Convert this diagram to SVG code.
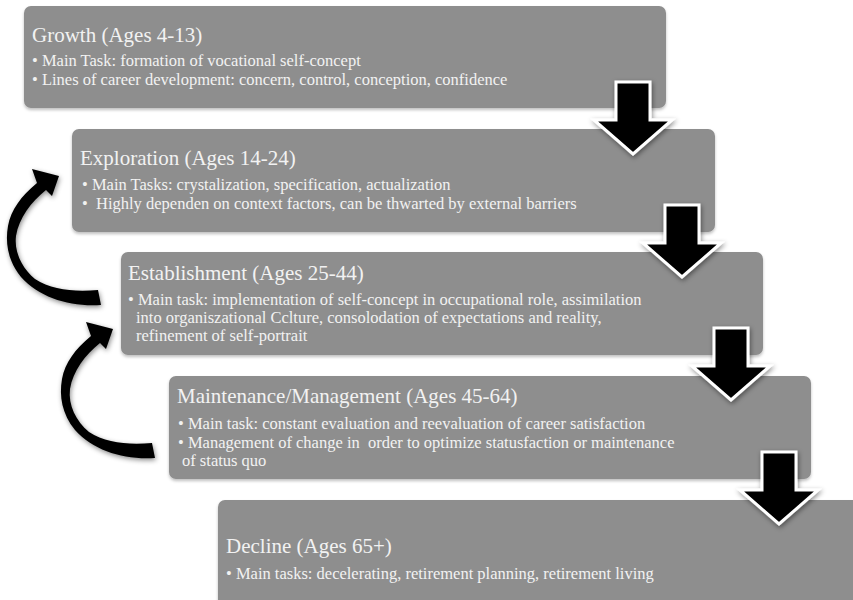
<svg xmlns="http://www.w3.org/2000/svg" width="853" height="600" viewBox="0 0 853 600">
  <defs>
    <filter id="soft" x="-30%" y="-30%" width="160%" height="160%">
      <feGaussianBlur in="SourceAlpha" stdDeviation="2.5"/>
      <feOffset dx="1" dy="2" result="b"/>
      <feFlood flood-color="#000" flood-opacity="0.45"/>
      <feComposite in2="b" operator="in"/>
      <feMerge><feMergeNode/><feMergeNode in="SourceGraphic"/></feMerge>
    </filter>
    <filter id="boxshadow" x="-5%" y="-10%" width="110%" height="130%">
      <feGaussianBlur in="SourceAlpha" stdDeviation="1.5"/>
      <feOffset dx="0" dy="1.5" result="b"/>
      <feFlood flood-color="#000" flood-opacity="0.25"/>
      <feComposite in2="b" operator="in"/>
      <feMerge><feMergeNode/><feMergeNode in="SourceGraphic"/></feMerge>
    </filter>
    <!-- block arrow pointing down, origin at top centre of shaft -->
    <path id="down" d="M -17 0 H 17 V 38 H 39 L 0 72 L -39 38 H -17 Z"/>
    <!-- curved return arrow, tail at lower right, head at upper left -->
    <path id="curve" d="M 101 305 C 70 307 40 298 21 277 C 8 261 5 243 8 226 C 11 210 21 196 37 183 L 32 169 L 59 176 L 52 196 L 46 190 C 31 202 19 218 16 236 C 14 252 22 268 35 279 C 52 290 74 292 98 290 Z"/>
  </defs>
  <style>
    .box { fill: #8e8e8e; filter: url(#boxshadow); }
    .title { font-family: "Liberation Serif", "Times New Roman", serif; font-size: 21px; fill: #f2f2f2; }
    .item { font-family: "Liberation Serif", "Times New Roman", serif; font-size: 16.5px; fill: #f2f2f2; white-space: pre; }
    .down { fill: #000; stroke: #fff; stroke-width: 3; stroke-linejoin: miter; filter: url(#soft); }
    .curve { fill: #000; filter: url(#soft); }
  </style>
  <rect width="853" height="600" fill="#fff"/>

  <g id="growth">
    <rect class="box" x="24" y="6" width="642" height="102" rx="7"/>
    <text class="title" x="32" y="42">Growth (Ages 4-13)</text>
    <text class="item" x="32" y="66" xml:space="preserve">• Main Task: formation of vocational self-concept</text>
    <text class="item" x="32" y="85" xml:space="preserve">• Lines of career development: concern, control, conception, confidence</text>
  </g>

  <g id="exploration">
    <rect class="box" x="72" y="129" width="643" height="103" rx="7"/>
    <text class="title" x="80" y="165">Exploration (Ages 14-24)</text>
    <text class="item" x="82" y="190" xml:space="preserve">• Main Tasks: crystalization, specification, actualization</text>
    <text class="item" x="82" y="209" xml:space="preserve">•  Highly dependen on context factors, can be thwarted by external barriers</text>
  </g>

  <g id="establishment">
    <rect class="box" x="121" y="252" width="642" height="103" rx="7"/>
    <text class="title" x="128" y="280">Establishment (Ages 25-44)</text>
    <text class="item" x="128" y="305" xml:space="preserve">• Main task: implementation of self-concept in occupational role, assimilation</text>
    <text class="item" x="136" y="323" xml:space="preserve">into organiszational Cclture, consolodation of expectations and reality,</text>
    <text class="item" x="136" y="341" xml:space="preserve">refinement of self-portrait</text>
  </g>

  <g id="maintenance">
    <rect class="box" x="169" y="376" width="642" height="103" rx="7"/>
    <text class="title" x="177" y="403">Maintenance/Management (Ages 45-64)</text>
    <text class="item" x="178" y="429" xml:space="preserve">• Main task: constant evaluation and reevaluation of career satisfaction</text>
    <text class="item" x="178" y="448" xml:space="preserve">• Management of change in  order to optimize statusfaction or maintenance</text>
    <text class="item" x="182" y="466" xml:space="preserve">of status quo</text>
  </g>

  <g id="decline">
    <rect class="box" x="218" y="500" width="650" height="115" rx="7"/>
    <text class="title" x="226" y="553">Decline (Ages 65+)</text>
    <text class="item" x="226" y="579" xml:space="preserve">• Main tasks: decelerating, retirement planning, retirement living</text>
  </g>

  <g id="connectors">
    <use href="#down" class="down" transform="translate(633 82)"/>
    <use href="#down" class="down" transform="translate(682 205)"/>
    <use href="#down" class="down" transform="translate(731 328)"/>
    <use href="#down" class="down" transform="translate(779 452)"/>
    <use href="#curve" class="curve"/>
    <use href="#curve" class="curve" transform="translate(54 153)"/>
  </g>
</svg>
